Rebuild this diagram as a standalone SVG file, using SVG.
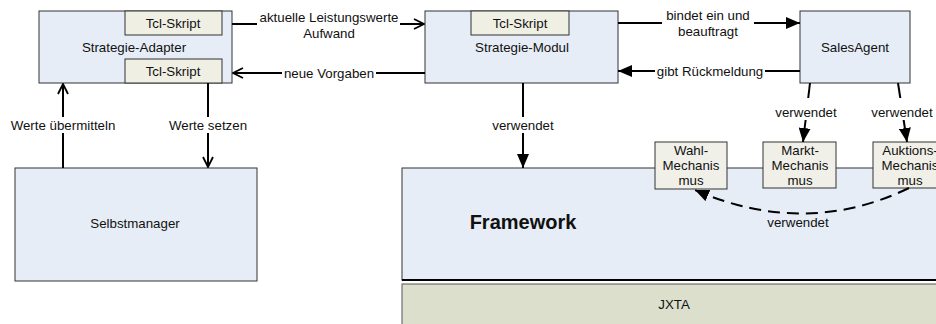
<svg xmlns="http://www.w3.org/2000/svg" width="936" height="324" viewBox="0 0 936 324">
<defs>
<style>
text{font-family:"Liberation Sans",Arial,sans-serif;font-size:13.3px;fill:#111;text-anchor:middle}
.box{fill:#e6edf6;stroke:#333;stroke-width:1}
.tcl{fill:#efefe4;stroke:#333;stroke-width:1}
.mech{fill:#f0f0e8;stroke:#333;stroke-width:1}
.c{fill:none;stroke:#000;stroke-width:2}
.lbl{fill:#fff}
</style>
<marker id="open" viewBox="0 0 12 12" refX="11" refY="6" markerWidth="12" markerHeight="12" markerUnits="userSpaceOnUse" orient="auto">
<path d="M1,1 L11,6 L1,11" fill="none" stroke="#000" stroke-width="1.8"/>
</marker>
<marker id="fill" viewBox="0 0 14 12" refX="14" refY="6" markerWidth="14" markerHeight="12" markerUnits="userSpaceOnUse" orient="auto">
<path d="M0,0 L14,6 L0,12 Z" fill="#000"/>
</marker>
</defs>

<g id="framework">
<rect class="box" x="402" y="168" width="540" height="112"/>
<line x1="402" y1="280" x2="936" y2="280" stroke="#000" stroke-width="2"/>
<text x="523" y="229" style="font-size:20px;font-weight:bold">Framework</text>
</g>
<g id="jxta">
<rect x="402" y="284" width="540" height="50" fill="#dcdfcc" stroke="#555" stroke-width="1"/>
<text x="674" y="309">JXTA</text>
</g>

<g id="strategie-adapter">
<rect class="box" x="39" y="11" width="193" height="72"/>
<text x="134" y="52">Strategie-Adapter</text>
<g id="tcl-adapter-1"><rect class="tcl" x="125" y="11" width="97" height="24"/><text x="173" y="28">Tcl-Skript</text></g>
<g id="tcl-adapter-2"><rect class="tcl" x="125" y="59" width="97" height="24"/><text x="173" y="76">Tcl-Skript</text></g>
</g>

<g id="strategie-modul">
<rect class="box" x="425" y="11" width="193" height="72"/>
<g id="tcl-modul"><rect class="tcl" x="471" y="11" width="98" height="24"/><text x="520" y="28">Tcl-Skript</text></g>
<text x="522" y="52">Strategie-Modul</text>
</g>

<g id="salesagent">
<rect class="box" x="800" y="11" width="110" height="72"/>
<text x="855" y="52">SalesAgent</text>
</g>

<g id="selbstmanager">
<rect class="box" x="15" y="168" width="242" height="113"/>
<text x="135" y="228">Selbstmanager</text>
</g>

<g id="wahl-mechanismus">
<rect class="mech" x="655" y="142" width="72" height="47"/>
<text x="691" y="155">Wahl-</text><text x="691" y="170">Mechanis</text><text x="691" y="185">mus</text>
</g>
<g id="markt-mechanismus">
<rect class="mech" x="763" y="142" width="73" height="46"/>
<text x="800" y="155">Markt-</text><text x="800" y="170">Mechanis</text><text x="800" y="185">mus</text>
</g>
<g id="auktions-mechanismus">
<rect class="mech" x="873" y="142" width="73" height="46"/>
<text x="910" y="155">Auktions-</text><text x="910" y="170">Mechanis</text><text x="910" y="185">mus</text>
</g>

<g id="connectors">
<line class="c" x1="232" y1="24" x2="424" y2="24" marker-end="url(#open)"/>
<rect class="lbl" x="257" y="9" width="143" height="32"/>
<text x="329" y="22">aktuelle Leistungswerte</text>
<text x="329" y="38">Aufwand</text>

<line class="c" x1="425" y1="73" x2="233" y2="73" marker-end="url(#open)"/>
<rect class="lbl" x="282" y="65" width="94" height="16"/>
<text x="329" y="78">neue Vorgaben</text>

<line class="c" x1="618" y1="23" x2="800" y2="23" marker-end="url(#fill)"/>
<rect class="lbl" x="662" y="7" width="92" height="33"/>
<text x="708" y="20">bindet ein und</text>
<text x="708" y="36">beauftragt</text>

<line class="c" x1="800" y1="71" x2="618" y2="71" marker-end="url(#fill)"/>
<rect class="lbl" x="655" y="63" width="110" height="16"/>
<text x="710" y="76">gibt Rückmeldung</text>

<line class="c" x1="63" y1="168" x2="63" y2="84" marker-end="url(#open)"/>
<rect class="lbl" x="8" y="117" width="110" height="16"/>
<text x="63" y="130">Werte übermitteln</text>

<line class="c" x1="208" y1="83" x2="208" y2="167" marker-end="url(#open)"/>
<rect class="lbl" x="167" y="117" width="82" height="16"/>
<text x="208" y="130">Werte setzen</text>

<line class="c" x1="523" y1="83" x2="523" y2="168" marker-end="url(#fill)"/>
<rect class="lbl" x="488" y="117" width="70" height="16"/>
<text x="523" y="130">verwendet</text>

<line class="c" x1="810" y1="83" x2="803" y2="142" marker-end="url(#fill)"/>
<rect class="lbl" x="770" y="98" width="70" height="22"/>
<text x="806" y="117">verwendet</text>

<line class="c" x1="898" y1="83" x2="907" y2="142" marker-end="url(#fill)"/>
<rect class="lbl" x="868" y="98" width="68" height="22"/>
<text x="902" y="117">verwendet</text>

<path class="c" d="M909,188 Q805,238 695,190" stroke-dasharray="12,7" marker-end="url(#fill)"/>
<text x="798" y="227">verwendet</text>
</g>
</svg>
